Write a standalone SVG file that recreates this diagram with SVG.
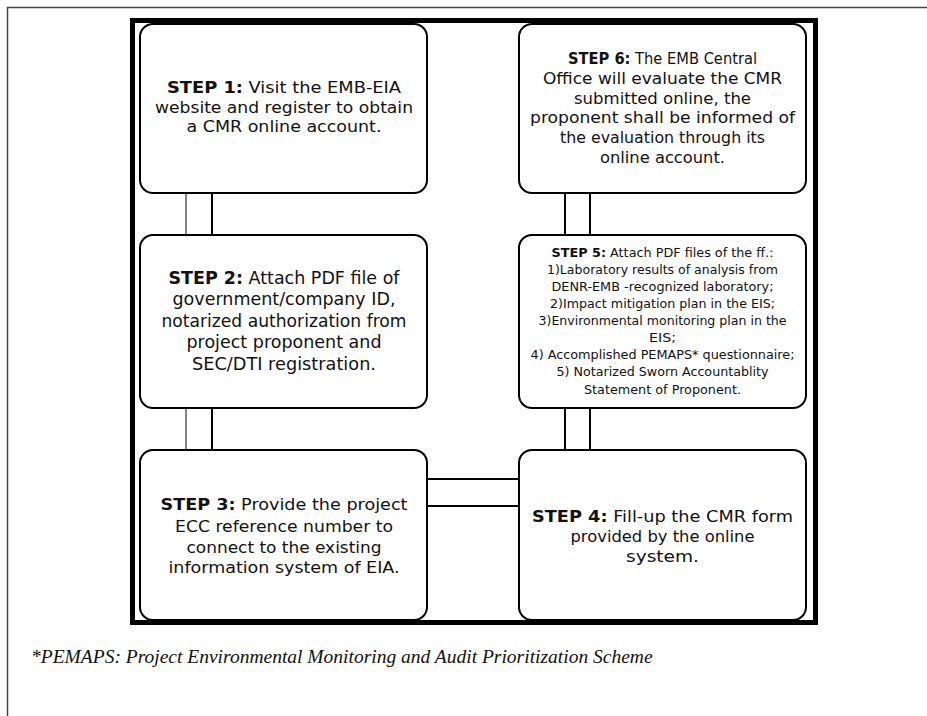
<svg xmlns="http://www.w3.org/2000/svg" width="927" height="716" viewBox="0 0 927 716">
<style>
.box{fill:#fff;stroke:#000;stroke-width:2}
.t{font-family:"DejaVu Sans",Verdana,sans-serif;font-size:16px;fill:#111;text-anchor:middle}
.t2{font-size:17px}
.s{font-size:13px}
.b{font-weight:bold}
.cn{stroke:#000;stroke-width:2;fill:none}
.cl{stroke:#333;stroke-width:1.2;fill:none}
.fn{font-family:"Liberation Serif","Times New Roman",serif;font-style:italic;font-size:19.5px;fill:#111}
</style>
<rect width="927" height="716" fill="#fff"/>
<path d="M7.5 716 V7.5 H927" fill="none" stroke="#444" stroke-width="1.5"/>
<rect x="132.5" y="20.5" width="683" height="602" fill="#fff" stroke="#000" stroke-width="5"/>
<g id="connectors">
<line class="cl" x1="186" y1="193" x2="186" y2="235"/>
<line class="cn" x1="212" y1="193" x2="212" y2="235"/>
<line class="cl" x1="186" y1="408" x2="186" y2="450"/>
<line class="cn" x1="212" y1="408" x2="212" y2="450"/>
<line class="cn" x1="427" y1="479" x2="519" y2="479"/>
<line class="cn" x1="427" y1="506" x2="519" y2="506"/>
<line class="cn" x1="565" y1="408" x2="565" y2="450"/>
<line class="cn" x1="590" y1="408" x2="590" y2="450"/>
<line class="cn" x1="565" y1="193" x2="565" y2="235"/>
<line class="cn" x1="590" y1="193" x2="590" y2="235"/>
</g>
<g id="step1">
<rect class="box" x="140" y="24" width="287" height="169" rx="13"/>
<text class="t"><tspan x="284" y="93" textLength="234" lengthAdjust="spacingAndGlyphs"><tspan class="b">STEP 1:</tspan> Visit the EMB-EIA</tspan></text>
<text class="t" x="284" y="113" textLength="258" lengthAdjust="spacingAndGlyphs">website and register to obtain</text>
<text class="t" x="284" y="132" textLength="195" lengthAdjust="spacingAndGlyphs">a CMR online account.</text>
</g>
<g id="step2">
<rect class="box" x="140" y="235" width="287" height="173" rx="13"/>
<text class="t t2"><tspan x="284" y="284" textLength="231" lengthAdjust="spacingAndGlyphs"><tspan class="b">STEP 2:</tspan> Attach PDF file of</tspan></text>
<text class="t t2" x="284" y="305" textLength="223" lengthAdjust="spacingAndGlyphs">government/company ID,</text>
<text class="t t2" x="284" y="327" textLength="245" lengthAdjust="spacingAndGlyphs">notarized authorization from</text>
<text class="t t2" x="284" y="348" textLength="195" lengthAdjust="spacingAndGlyphs">project proponent and</text>
<text class="t t2" x="284" y="370" textLength="184" lengthAdjust="spacingAndGlyphs">SEC/DTI registration.</text>
</g>
<g id="step3">
<rect class="box" x="140" y="450" width="287" height="170" rx="13"/>
<text class="t"><tspan x="284" y="510" textLength="247" lengthAdjust="spacingAndGlyphs"><tspan class="b">STEP 3:</tspan> Provide the project</tspan></text>
<text class="t" x="284" y="532" textLength="218" lengthAdjust="spacingAndGlyphs">ECC reference number to</text>
<text class="t" x="284" y="553" textLength="195" lengthAdjust="spacingAndGlyphs">connect to the existing</text>
<text class="t" x="284" y="573" textLength="231" lengthAdjust="spacingAndGlyphs">information system of EIA.</text>
</g>
<g id="step4">
<rect class="box" x="519" y="450" width="287" height="170" rx="13"/>
<text class="t"><tspan x="662.5" y="522" textLength="261" lengthAdjust="spacingAndGlyphs"><tspan class="b">STEP 4:</tspan> Fill-up the CMR form</tspan></text>
<text class="t" x="662.5" y="542" textLength="184" lengthAdjust="spacingAndGlyphs">provided by the online</text>
<text class="t" x="662.5" y="562" textLength="73" lengthAdjust="spacingAndGlyphs">system.</text>
</g>
<g id="step5">
<rect class="box" x="519" y="235" width="287" height="173" rx="13"/>
<text class="t s"><tspan x="662.5" y="257" textLength="222" lengthAdjust="spacingAndGlyphs"><tspan class="b">STEP 5:</tspan> Attach PDF files of the ff.:</tspan></text>
<text class="t s" x="662.5" y="274" textLength="231" lengthAdjust="spacingAndGlyphs">1)Laboratory results of analysis from</text>
<text class="t s" x="662.5" y="291" textLength="222" lengthAdjust="spacingAndGlyphs">DENR-EMB -recognized laboratory;</text>
<text class="t s" x="662.5" y="308" textLength="225" lengthAdjust="spacingAndGlyphs">2)Impact mitigation plan in the EIS;</text>
<text class="t s" x="662.5" y="325" textLength="248" lengthAdjust="spacingAndGlyphs">3)Environmental monitoring plan in the</text>
<text class="t s" x="662.5" y="342" textLength="27" lengthAdjust="spacingAndGlyphs">EIS;</text>
<text class="t s" x="662.5" y="359" textLength="264" lengthAdjust="spacingAndGlyphs">4) Accomplished PEMAPS* questionnaire;</text>
<text class="t s" x="662.5" y="376" textLength="212" lengthAdjust="spacingAndGlyphs">5) Notarized Sworn Accountablity</text>
<text class="t s" x="662.5" y="394" textLength="157" lengthAdjust="spacingAndGlyphs">Statement of Proponent.</text>
</g>
<g id="step6">
<rect class="box" x="519" y="24" width="287" height="169" rx="13"/>
<text class="t"><tspan x="662.5" y="64" textLength="189" lengthAdjust="spacingAndGlyphs"><tspan class="b">STEP 6:</tspan> The EMB Central</tspan></text>
<text class="t" x="662.5" y="84" textLength="239" lengthAdjust="spacingAndGlyphs">Office will evaluate the CMR</text>
<text class="t" x="662.5" y="104" textLength="177" lengthAdjust="spacingAndGlyphs">submitted online, the</text>
<text class="t" x="662.5" y="123" textLength="265" lengthAdjust="spacingAndGlyphs">proponent shall be informed of</text>
<text class="t" x="662.5" y="143" textLength="205" lengthAdjust="spacingAndGlyphs">the evaluation through its</text>
<text class="t" x="662.5" y="163" textLength="125" lengthAdjust="spacingAndGlyphs">online account.</text>
</g>
<text class="fn" x="31" y="663">*PEMAPS: Project Environmental Monitoring and Audit Prioritization Scheme</text>
</svg>
